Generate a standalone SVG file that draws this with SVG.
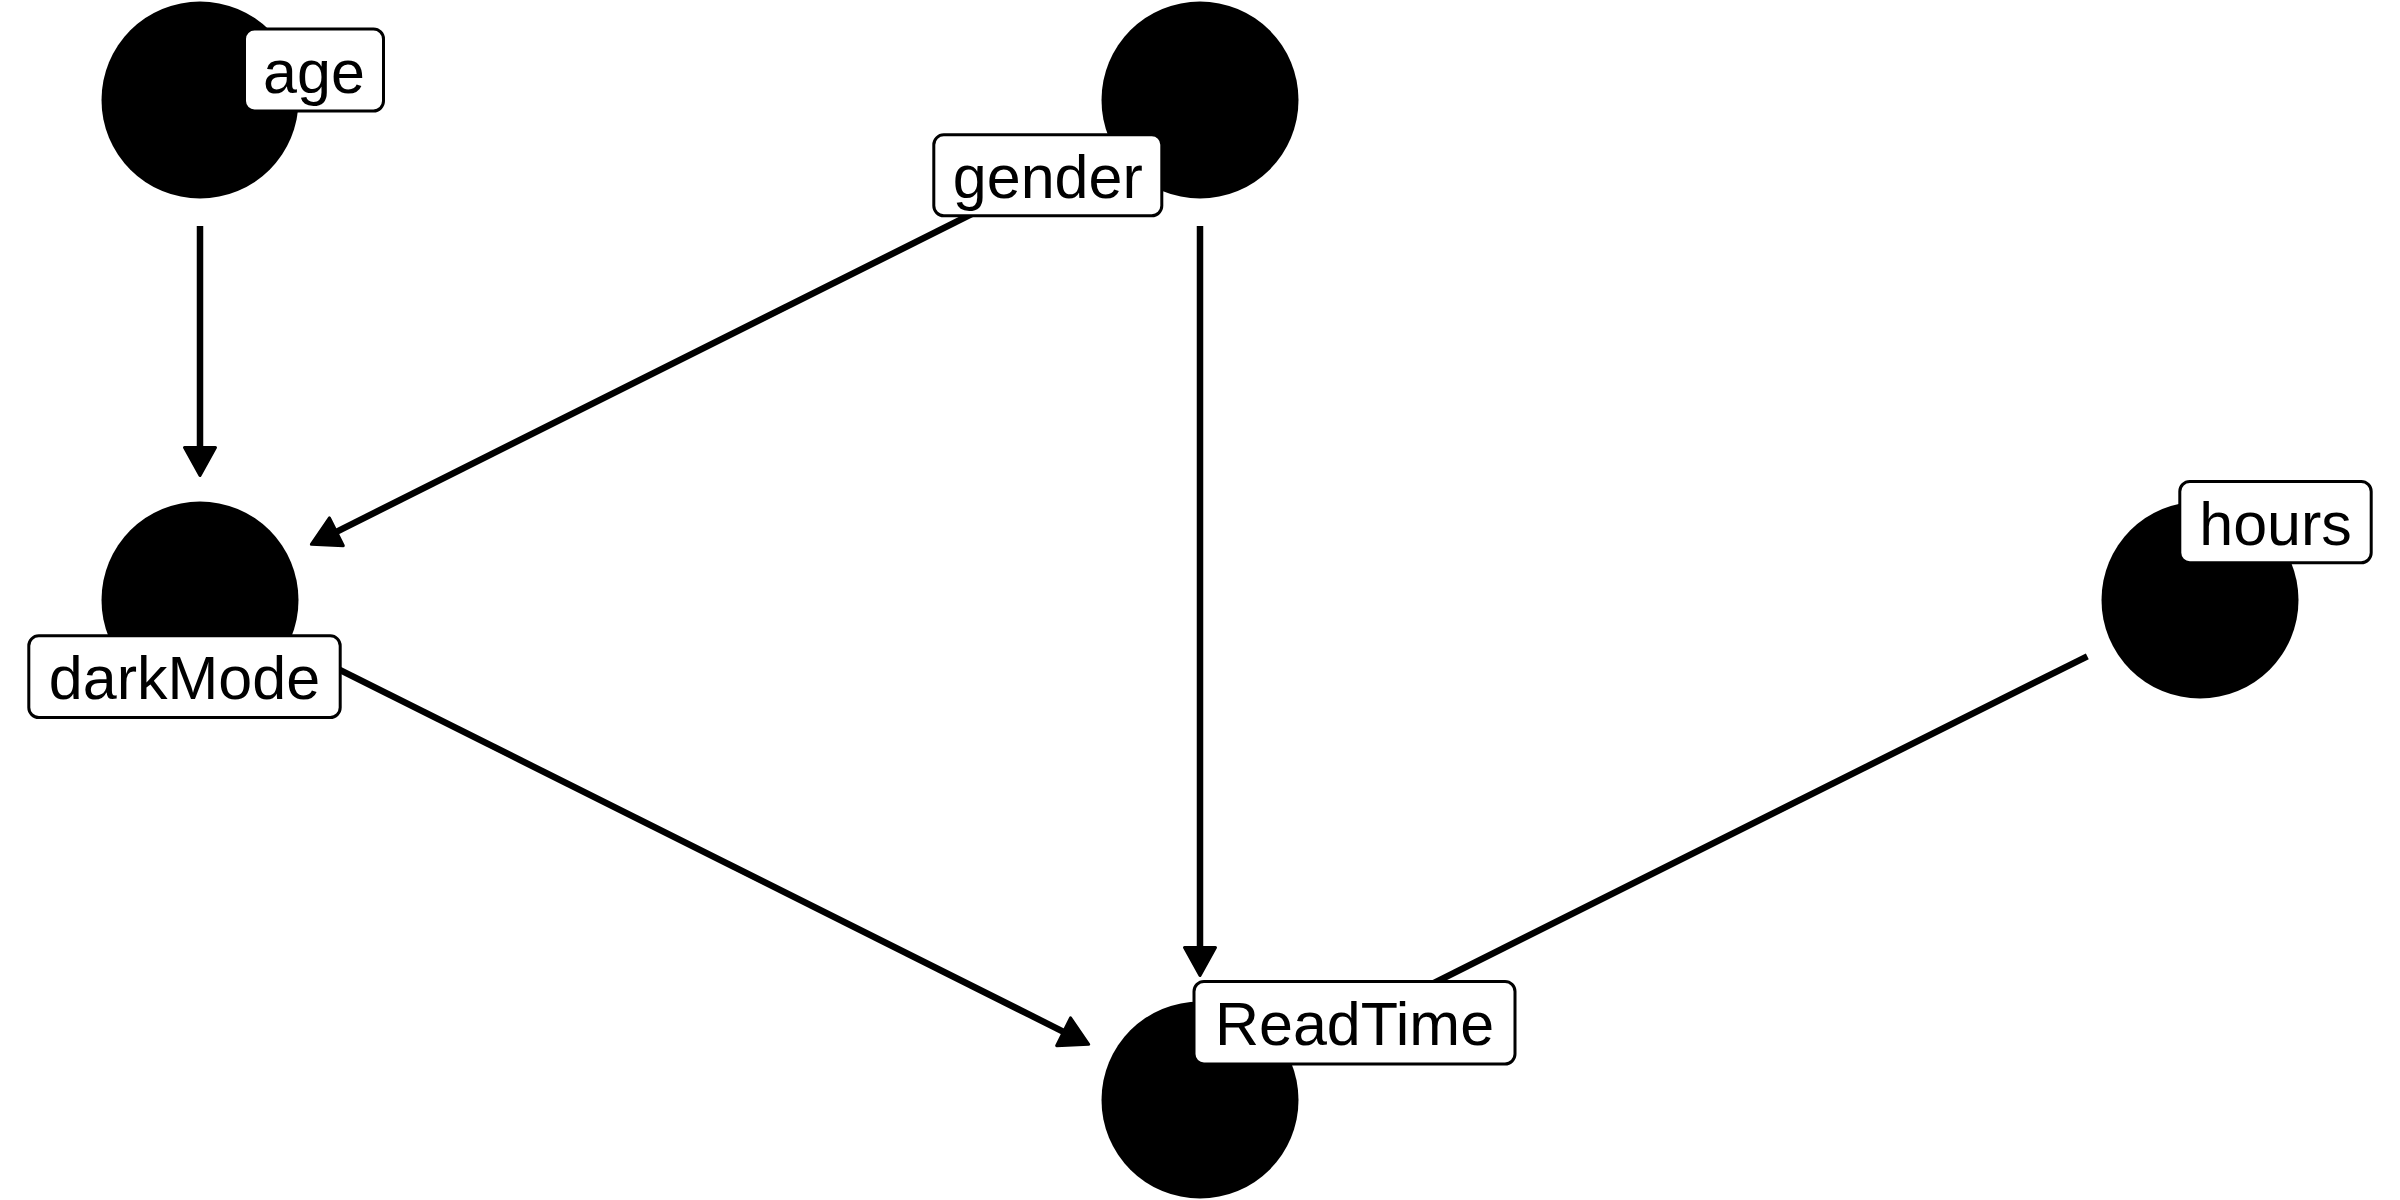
<svg xmlns="http://www.w3.org/2000/svg" width="2400" height="1200" viewBox="0 0 2400 1200">
  <style>
    .node { fill: #000000; }
    .edge { stroke: #000000; stroke-width: 6.5; fill: none; }
    .lbl { fill: #ffffff; stroke: #000000; stroke-width: 3; }
    .txt { font-family: "Liberation Sans", Arial, sans-serif; font-size: 61px; fill: #000000; text-anchor: middle; }
  </style>
  <defs>
    <marker id="arrow" markerUnits="userSpaceOnUse" markerWidth="40" markerHeight="40" viewBox="-3 -20 36 40" refX="0" refY="0" orient="auto">
      <path d="M0,-15.5 L28,0 L0,15.5 Z" fill="#000000" stroke="#000000" stroke-width="3" stroke-linejoin="round"/>
    </marker>
  </defs>
  <rect width="2400" height="1200" fill="#ffffff"/>
  <g id="connectors">
    <line id="e-age-darkMode" class="edge" x1="200" y1="226" x2="200" y2="447.5" marker-end="url(#arrow)"/>
    <line id="e-gender-ReadTime" class="edge" x1="1200" y1="226" x2="1200" y2="947.5" marker-end="url(#arrow)"/>
    <line id="e-gender-darkMode" class="edge" x1="1087.3" y1="156.3" x2="336.4" y2="531.8" marker-end="url(#arrow)"/>
    <line id="e-darkMode-ReadTime" class="edge" x1="312.7" y1="656.3" x2="1063.6" y2="1031.8" marker-end="url(#arrow)"/>
    <line id="e-hours-ReadTime" class="edge" x1="2087.3" y1="656.3" x2="1336.4" y2="1031.8" marker-end="url(#arrow)"/>
  </g>
  <g id="node-age">
    <circle class="node" cx="200" cy="100" r="98.5"/>
    <rect class="lbl" x="244.5" y="29" width="139" height="82" rx="10"/>
    <text class="txt" x="314" y="92.5">age</text>
  </g>
  <g id="node-gender">
    <circle class="node" cx="1200" cy="100" r="98.5"/>
    <rect class="lbl" x="933.8" y="134.8" width="228" height="81" rx="10"/>
    <text class="txt" x="1047.8" y="197.8">gender</text>
  </g>
  <g id="node-darkMode">
    <circle class="node" cx="200" cy="600" r="98.5"/>
    <rect class="lbl" x="28.8" y="635.8" width="311.4" height="81.7" rx="10"/>
    <text class="txt" x="184.5" y="699.2">darkMode</text>
  </g>
  <g id="node-hours">
    <circle class="node" cx="2200" cy="600" r="98.5"/>
    <rect class="lbl" x="2179.8" y="481.5" width="191.4" height="81.3" rx="10"/>
    <text class="txt" x="2275.5" y="544.7">hours</text>
  </g>
  <g id="node-ReadTime">
    <circle class="node" cx="1200" cy="1100" r="98.5"/>
    <rect class="lbl" x="1194" y="981.5" width="321" height="82.5" rx="10"/>
    <text class="txt" x="1354.5" y="1045.2">ReadTime</text>
  </g>
</svg>
